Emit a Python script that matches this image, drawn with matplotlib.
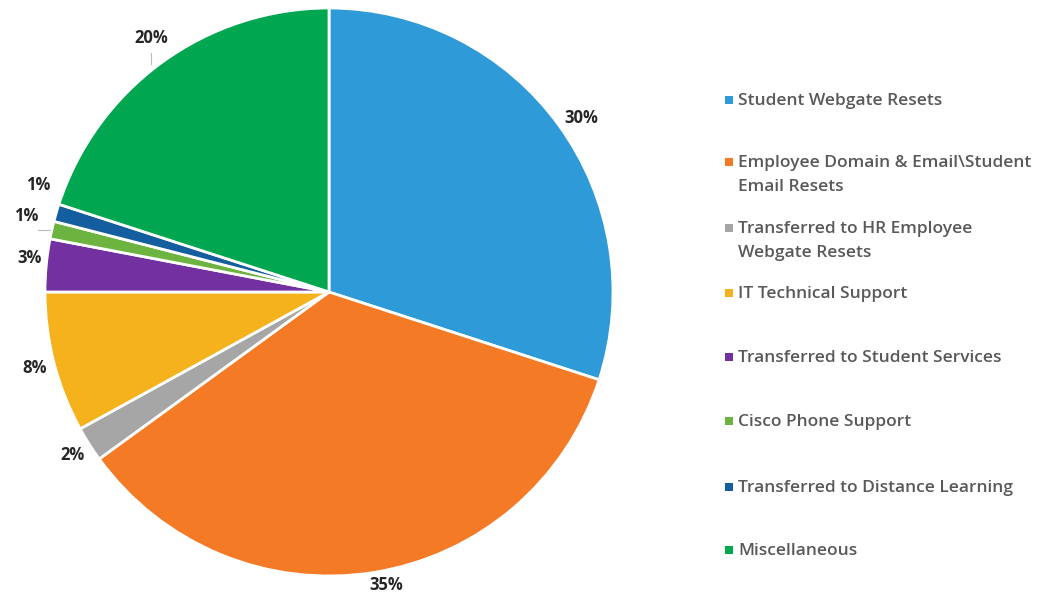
import numpy as np
import matplotlib
matplotlib.use("Agg")
import matplotlib.pyplot as plt
from matplotlib.patches import Rectangle

categories = [
    "Student Webgate Resets",
    "Employee Domain & Email\\Student\nEmail Resets",
    "Transferred to HR Employee\nWebgate Resets",
    "IT Technical Support",
    "Transferred to Student Services",
    "Cisco Phone Support",
    "Transferred to Distance Learning",
    "Miscellaneous",
]
values = [30, 35, 2, 8, 3, 1, 1, 20]
pct_labels = ["30%", "35%", "2%", "8%", "3%", "1%", "1%", "20%"]
colors = ["#2E9BD8", "#F47A26", "#A6A6A6", "#F5B21C", "#7230A0", "#6DB33F", "#145EA0", "#00A650"]

# label placement styling (distance factor, angle offset deg)
lab_dist = [1.08, 1.05, 1.07, 1.07, 1.06, 1.10, 1.09, 1.09]
lab_off = [-1.5, 2.0, 0.0, 0.0, -1.0, -1.5, -4.0, -1.0]

W, H = 1037, 595
fig = plt.figure(figsize=(W / 100, H / 100), dpi=100)
cx, cy, r = 329, 292, 284
k = 1.2
half = r * k
ax = fig.add_axes([(cx - half) / W, (H - cy - half) / H, 2 * half / W, 2 * half / H])

wedges, _ = ax.pie(values, colors=colors, startangle=90, counterclock=False,
                   radius=1.0, wedgeprops=dict(edgecolor="white", linewidth=2))
ax.set_xlim(-k, k)
ax.set_ylim(-k, k)
ax.set_aspect("equal")
ax.axis("off")

for i, w in enumerate(wedges):
    mid = np.deg2rad((w.theta1 + w.theta2) / 2 + lab_off[i])
    d = lab_dist[i]
    ax.text(d * np.cos(mid), d * np.sin(mid), pct_labels[i], ha="center", va="center",
            fontsize=12, fontweight="bold", color="#262626", family="Open Sans")

# leader lines for 20% and Cisco 1%
w = wedges[7]
mid = np.deg2rad((w.theta1 + w.theta2) / 2 - 1.0)
x0, y0 = 1.09 * np.cos(mid), 1.09 * np.sin(mid)
ax.plot([x0, x0], [y0 - 0.05, y0 - 0.09], color="#BBBBBB", lw=0.8)
w = wedges[5]
mid = np.deg2rad((w.theta1 + w.theta2) / 2)
ax.plot([np.cos(mid) - 0.005, np.cos(mid) - 0.05], [np.sin(mid), np.sin(mid)], color="#BBBBBB", lw=0.8)

# legend (first-line positions in pixels)
leg_y = [100, 162, 228, 293, 357, 421, 487, 550]
for i, cat in enumerate(categories):
    y = leg_y[i]
    fig.add_artist(Rectangle((725 / W, (H - y - 4) / H), 8 / W, 8 / H,
                             transform=fig.transFigure, color=colors[i], lw=0))
    fig.text(738 / W, (H - y + 7) / H, cat, ha="left", va="top", fontsize=12.5,
             color="#595959", family="Open Sans", fontweight="semibold", linespacing=1.7)

fig.savefig("out.png", dpi=100)
